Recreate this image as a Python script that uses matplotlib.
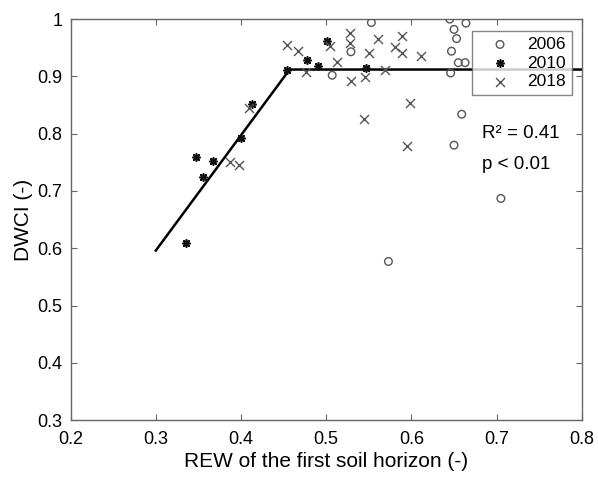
import matplotlib.pyplot as plt

plt.rcParams["font.family"] = ["Liberation Sans", "DejaVu Sans"]

# Data
rew_2006 = [0.553, 0.645, 0.664, 0.650, 0.653, 0.529, 0.647, 0.655, 0.663,
            0.507, 0.646, 0.659, 0.650, 0.705, 0.573]
dwci_2006 = [0.994, 1.000, 0.993, 0.982, 0.966, 0.943, 0.944, 0.924, 0.924,
             0.902, 0.906, 0.834, 0.780, 0.687, 0.577]

rew_2010 = [0.336, 0.355, 0.347, 0.367, 0.400, 0.413, 0.454, 0.478, 0.490,
            0.501, 0.547]
dwci_2010 = [0.610, 0.725, 0.759, 0.752, 0.793, 0.852, 0.912, 0.928, 0.919,
             0.962, 0.914]

rew_2018 = [0.387, 0.398, 0.409, 0.454, 0.467, 0.476, 0.504, 0.513, 0.528,
            0.528, 0.529, 0.545, 0.550, 0.561, 0.569, 0.581, 0.589, 0.589,
            0.611, 0.598, 0.544, 0.595]
dwci_2018 = [0.751, 0.746, 0.845, 0.955, 0.944, 0.907, 0.953, 0.925, 0.976,
             0.958, 0.892, 0.899, 0.940, 0.965, 0.912, 0.951, 0.971, 0.941,
             0.935, 0.853, 0.825, 0.778]

# Segmented regression fit
fit_x = [0.300, 0.457, 0.800]
fit_y = [0.596, 0.912, 0.912]

fig = plt.figure(figsize=(5.98, 4.78), dpi=100)
ax = fig.add_axes([0.118, 0.121, 0.855, 0.839])

gray = "#555555"
ax.plot(fit_x, fit_y, color="black", linewidth=1.8, zorder=2)
ax.scatter(rew_2006, dwci_2006, s=30, facecolors="none", edgecolors=gray,
           linewidths=1.0, label="2006", zorder=3)
ax.scatter(rew_2010, dwci_2010, s=28, marker=(8, 2, 0), color="#111111",
           linewidths=1.2, label="2010", zorder=3)
ax.scatter(rew_2018, dwci_2018, s=42, marker="x", color=gray,
           linewidths=1.0, label="2018", zorder=3)

ax.text(0.683, 0.800, "R² = 0.41", fontsize=13.5, va="center", ha="left")
ax.text(0.683, 0.747, "p < 0.01", fontsize=13.5, va="center", ha="left")

ax.set_xlim(0.2, 0.8)
ax.set_ylim(0.3, 1.0)
ax.set_xticks([0.2, 0.3, 0.4, 0.5, 0.6, 0.7, 0.8])
ax.set_xticklabels(["0.2", "0.3", "0.4", "0.5", "0.6", "0.7", "0.8"])
ax.set_yticks([0.3, 0.4, 0.5, 0.6, 0.7, 0.8, 0.9, 1.0])
ax.set_yticklabels(["0.3", "0.4", "0.5", "0.6", "0.7", "0.8", "0.9", "1"])
ax.tick_params(direction="in", top=True, right=True, length=4,
               color="#666666", labelsize=13)
ax.tick_params(axis="x", pad=8)
ax.tick_params(axis="y", pad=6)
for sp in ax.spines.values():
    sp.set_color("#666666")
    sp.set_linewidth(1.0)

ax.set_xlabel("REW of the first soil horizon (-)", fontsize=15, labelpad=3)
ax.set_ylabel("DWCI (-)", fontsize=15, labelpad=3)

leg = ax.legend(loc="upper right", bbox_to_anchor=(0.98, 0.971),
                fontsize=12.5, frameon=True, fancybox=False,
                edgecolor="#666666", handletextpad=0.3, borderpad=0.35,
                labelspacing=0.2, handlelength=2.5, borderaxespad=0)
leg.get_frame().set_linewidth(1.0)

plt.savefig("out.png", dpi=100)
plt.close()
